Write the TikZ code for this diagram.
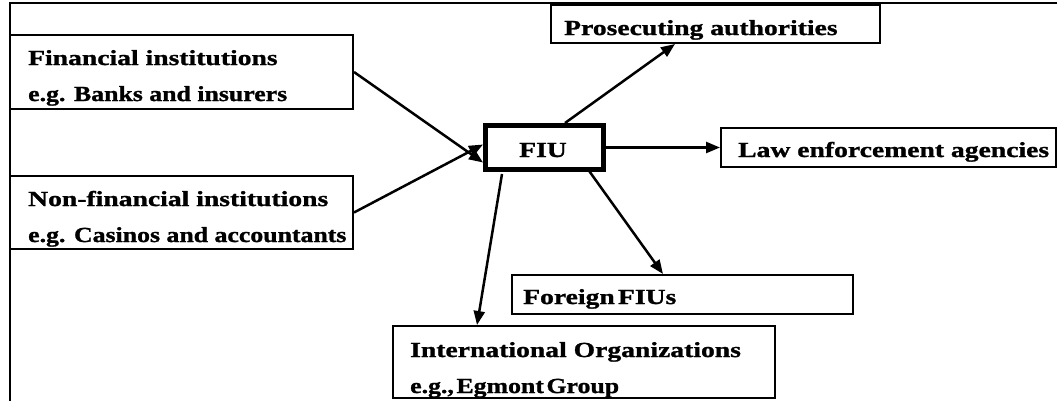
\documentclass[tikz,border=0pt]{standalone}
\usepackage{fontspec}
\newfontfamily\bxfont[FakeStretch=1.2, BoldFeatures={FakeBold=1.2}]{Liberation Serif}
\newfontfamily\hdfont[FakeStretch=1.285, BoldFeatures={FakeBold=1.2}]{Liberation Serif}
\usetikzlibrary{arrows.meta,calc}
\tikzset{
  box/.style={draw, line width=2pt, rectangle, inner sep=0pt},
  fiubox/.style={draw, line width=5pt, rectangle, inner sep=0pt},
  lbl/.style={anchor=base west, inner sep=0pt, font=\bxfont\bfseries\fontsize{21.5}{24}\selectfont},
  hd/.style={anchor=base west, inner sep=0pt, font=\hdfont\bfseries\fontsize{21.5}{24}\selectfont},
  arr/.style={line width=2.5pt, -{Triangle[length=14pt,width=11pt]}},
}
\begin{document}
\begin{tikzpicture}[x=1pt,y=-1pt]
\useasboundingbox (0,0) rectangle (1057,400);
% outer frame (clipped)
\draw[line width=2pt] (10,401) -- (10,3) -- (1058,3);
% boxes
\node[box, minimum width=343pt, minimum height=74pt] (fin) at (181.5,72) {};
\node[box, minimum width=343pt, minimum height=73pt] (nonfin) at (181.5,212.5) {};
\node[fiubox, minimum width=118pt, minimum height=44pt] (fiu) at (544.5,147.5) {};
\node[box, minimum width=329pt, minimum height=38pt] (pros) at (715.5,24) {};
\node[box, minimum width=335pt, minimum height=39pt] (law) at (888.5,147.5) {};
\node[box, minimum width=341pt, minimum height=39pt] (foreign) at (682.5,294.5) {};
\node[box, minimum width=382pt, minimum height=72pt] (intl) at (584,362) {};
% texts
\node[hd] (t1) at (28,65) {Financial institutions};
\node[lbl] (t2) at (28,101) {e.g. Banks and insurers};
\node[hd] (t3) at (28,206) {Non-financial institutions};
\node[lbl] (t4) at (28,242) {e.g. Casinos and accountants};
\node[hd] (t5) at (519,157) {FIU};
\node[hd] (t6) at (564,35) {Prosecuting authorities};
\node[hd] (t7) at (738,157) {Law enforcement agencies};
\node[hd] (t8) at (523,304) {Foreign\hspace{0.15em}FIUs};
\node[hd] (t9) at (410,357) {International Organizations};
\node[lbl] (t10) at (410,393) {e.g.,\hspace{0.12em}Egmont\hspace{0.12em}Group};
% connectors
\draw[arr] (fin.east) -- ([yshift=-15pt]fiu.west);
\draw[arr] (nonfin.east) -- ([yshift=3pt]fiu.west);
\draw[arr] ([xshift=20.5pt]fiu.north) -- ([xshift=-40.5pt]pros.south);
\draw[arr] (fiu.east) -- (law.west);
\draw[arr] ([xshift=42.5pt,yshift=4pt]fiu.south) -- ([xshift=-19.5pt]foreign.north);
\draw[arr] ([xshift=-42.5pt,yshift=-2pt]fiu.south) -- ([xshift=-107pt]intl.north);
\end{tikzpicture}
\end{document}
